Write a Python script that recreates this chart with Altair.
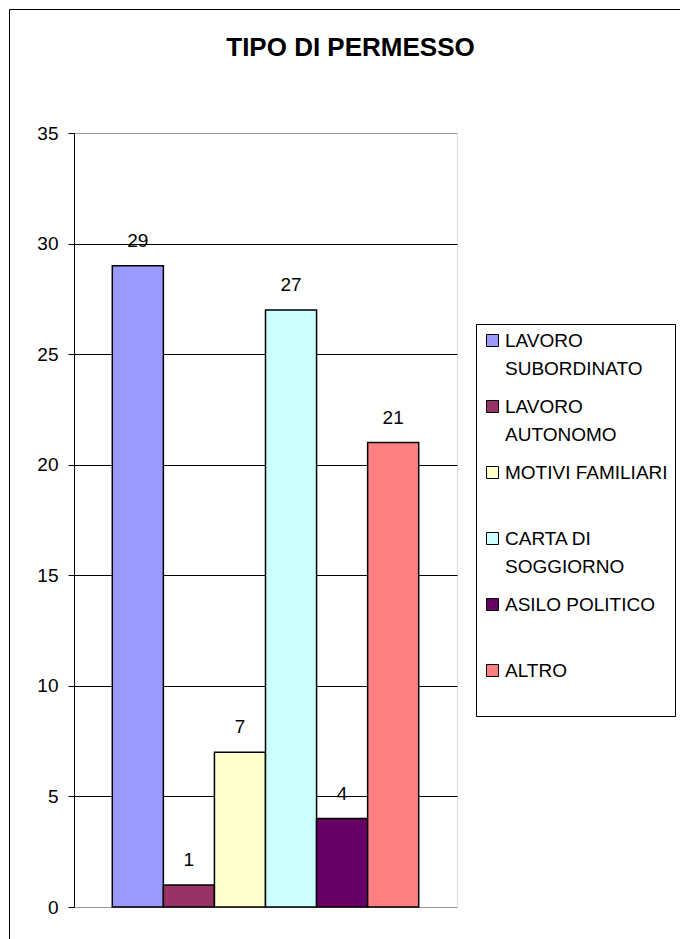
import altair as alt
import pandas as pd

# ---- data ----
categories = ["LAVORO SUBORDINATO", "LAVORO AUTONOMO", "MOTIVI FAMILIARI",
              "CARTA DI SOGGIORNO", "ASILO POLITICO", "ALTRO"]
counts = [29, 1, 7, 27, 4, 21]
colors = ["#9999FF", "#993366", "#FFFFCC", "#CCFFFF", "#660066", "#FF8080"]
legend_lines = [["LAVORO", "SUBORDINATO"], ["LAVORO", "AUTONOMO"],
                ["MOTIVI FAMILIARI", ""], ["CARTA DI", "SOGGIORNO"],
                ["ASILO POLITICO", ""], ["ALTRO", ""]]
y_ticks = [0, 5, 10, 15, 20, 25, 30, 35]
title_text = "TIPO DI PERMESSO"

df = pd.DataFrame({"tipo": categories, "n": counts})

FONT = "Liberation Sans"
W, H = 383, 774

# multi-line legend labels
parts = []
for cat, lines in zip(categories, legend_lines):
    arr = "[" + ",".join("'" + l + "'" for l in lines) + "]"
    parts.append(f"datum.label == '{cat}' ? {arr}")
label_expr = " : ".join(parts) + " : datum.label"

x_enc = alt.X("tipo:N", sort=categories, axis=None,
              scale=alt.Scale(paddingInner=0, paddingOuter=0.75))
y_enc = alt.Y("n:Q",
              scale=alt.Scale(domain=[0, 35], nice=False, zero=True),
              axis=alt.Axis(values=y_ticks, title=None, grid=True,
                            gridColor={"condition": {"test": "datum.value == 35 || datum.value == 0",
                                                     "value": "#999999"},
                                       "value": "black"},
                            gridWidth=1, domainColor="black", tickColor="black",
                            tickSize=6, labelPadding=10, labelFontSize=19,
                            labelFont=FONT, labelColor="black"))

base = alt.Chart(df)

frame = alt.Chart(pd.DataFrame({"k": [0]})).mark_rect(
    filled=False, stroke="black", strokeWidth=1
).encode(x=alt.value(-64.5), x2=alt.value(640), y=alt.value(-123.5), y2=alt.value(830))

bars = base.mark_bar(stroke="black", strokeWidth=1.5).encode(
    x=x_enc,
    y=y_enc,
    color=alt.Color("tipo:N", sort=categories,
                    scale=alt.Scale(domain=categories, range=colors),
                    legend=alt.Legend(title=None, orient="none", legendX=402, legendY=191,
                                      symbolType="square", symbolSize=144,
                                      symbolStrokeColor="black", symbolStrokeWidth=1,
                                      labelFontSize=19, labelFont=FONT, labelColor="black",
                                      labelExpr=label_expr, labelLimit=400, labelOffset=3,
                                      rowPadding=18, padding=7,
                                      strokeColor="black", fillColor="white")),
)

labels = base.mark_text(dy=-19, baseline="alphabetic", fontSize=19, font=FONT,
                        color="black").encode(x=x_enc, y=alt.Y("n:Q"), text="n:Q")

chart = alt.layer(frame, bars, labels).properties(
    width=W, height=H,
    title=alt.Title(title_text, fontSize=26, fontWeight="bold", font=FONT, color="black",
                    anchor="middle", dx=85, dy=73, offset=0, baseline="alphabetic"),
    autosize=alt.AutoSizeParams(type="none"),
    padding={"left": 74, "top": 133, "right": 223, "bottom": 32},
).configure_view(stroke="#999999", strokeWidth=1).configure(
    background="white",
    style={"guide-label": {"lineHeight": 28}},
)

chart.save("out.html", embed_options={"renderer": "svg", "actions": False})
